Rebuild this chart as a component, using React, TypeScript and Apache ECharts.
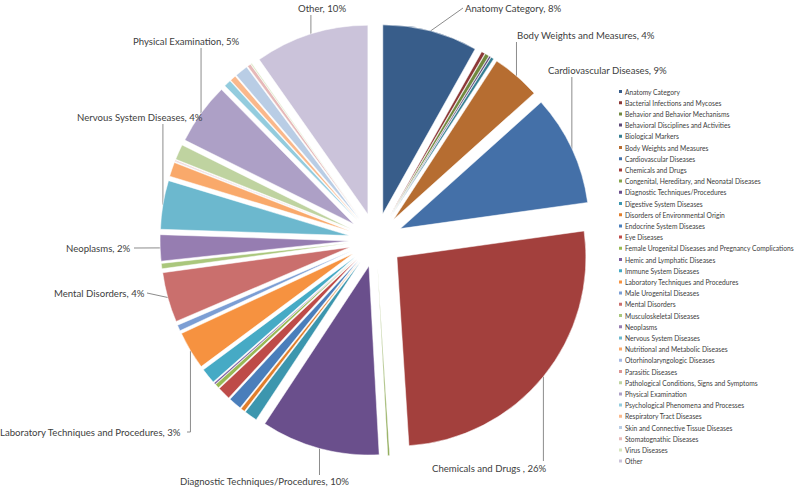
import React, { useEffect, useRef } from 'react';
import * as echarts from 'echarts';

const categories = [
  'Anatomy Category',
  'Bacterial Infections and Mycoses',
  'Behavior and Behavior Mechanisms',
  'Behavioral Disciplines and Activities',
  'Biological Markers',
  'Body Weights and Measures',
  'Cardiovascular Diseases',
  'Chemicals and Drugs',
  'Congenital, Hereditary, and Neonatal Diseases',
  'Diagnostic Techniques/Procedures',
  'Digestive System Diseases',
  'Disorders of Environmental Origin',
  'Endocrine System Diseases',
  'Eye Diseases',
  'Female Urogenital Diseases and Pregnancy Complications',
  'Hemic and Lymphatic Diseases',
  'Immune System Diseases',
  'Laboratory Techniques and Procedures',
  'Male Urogenital Diseases',
  'Mental Disorders',
  'Musculoskeletal Diseases',
  'Neoplasms',
  'Nervous System Diseases',
  'Nutritional and Metabolic Diseases',
  'Otorhinolaryngologic Diseases',
  'Parasitic Diseases',
  'Pathological Conditions, Signs and Symptoms',
  'Physical Examination',
  'Psychological Phenomena and Processes',
  'Respiratory Tract Diseases',
  'Skin and Connective Tissue Diseases',
  'Stomatognathic Diseases',
  'Virus Diseases',
  'Other',
];

const values = [
  8.0, 0.3, 0.35, 0.15, 0.25, 4.1, 9.3, 25.8, 0.15, 10.0,
  1.1, 0.35, 1.1, 1.1, 0.35, 0.15, 1.3, 3.2, 0.5, 4.2,
  0.45, 2.2, 4.1, 1.2, 0.05, 0.05, 1.3, 5.2, 0.6, 0.5,
  1.1, 0.3, 0.1, 9.6,
];

const colors = [
  '#385D8A', '#8C3836', '#71893F', '#5C4776', '#357D91', '#B66D31',
  '#4470A8', '#A3403D', '#86A44A', '#6A4F8C', '#3C96AE', '#E07E2C',
  '#4A7EBB', '#BE4B48', '#98B954', '#7D60A0', '#46AAC5', '#F69240',
  '#7C9ED4', '#CA6F6D', '#AAC77C', '#967DB1', '#6CB8CE', '#F9A96B',
  '#A7B9E3', '#DB9593', '#BFD3A0', '#ADA0C6', '#93CCDE', '#FAB88B',
  '#B9CDE5', '#E6B9B8', '#D7E4BD', '#CBC3DA',
];

const labelledCategories = [
  'Anatomy Category',
  'Body Weights and Measures',
  'Cardiovascular Diseases',
  'Chemicals and Drugs',
  'Diagnostic Techniques/Procedures',
  'Laboratory Techniques and Procedures',
  'Mental Disorders',
  'Neoplasms',
  'Nervous System Diseases',
  'Physical Examination',
  'Other',
];

type LabelSpec = {
  pos: [number, number];
  vy?: number; // vertical leader from slice to this y
  end?: [number, number]; // final point of leader
};

export default function App() {
  const ref = useRef<HTMLDivElement>(null);
  useEffect(() => {
    if (!ref.current) return;
    const chart = echarts.init(ref.current, null, { renderer: 'svg' });
    const total = values.reduce((a, b) => a + b, 0);
    const center = [376, 240];
    const radius = 189;
    const offset = 27;

    // anchor point on the exploded slice's outer arc, at its mid-angle
    const anchor = (idx: number): [number, number] => {
      let before = 0;
      for (let i = 0; i < idx; i++) before += values[i];
      const mid = ((before + values[idx] / 2) / total) * Math.PI * 2;
      const r = radius + offset;
      return [center[0] + r * Math.sin(mid), center[1] - r * Math.cos(mid)];
    };

    const labelSpec: Record<string, LabelSpec> = {
      'Anatomy Category': { pos: [465, 8], end: [463, 8] },
      'Body Weights and Measures': { pos: [517, 35], vy: 42 },
      'Cardiovascular Diseases': { pos: [548, 70], vy: 77 },
      'Chemicals and Drugs': { pos: [432, 468], vy: 461 },
      'Diagnostic Techniques/Procedures': { pos: [180, 481], vy: 475 },
      'Laboratory Techniques and Procedures': { pos: [0, 432], vy: 432, end: [187, 432] },
      'Mental Disorders': { pos: [54, 293], end: [147, 293] },
      'Neoplasms': { pos: [66, 248], end: [134, 248] },
      'Nervous System Diseases': { pos: [77, 117], vy: 124 },
      'Physical Examination': { pos: [133, 41], vy: 48 },
      'Other': { pos: [298, 8], vy: 15 },
    };

    const font = 'Lato, "Open Sans", sans-serif';
    chart.setOption({
      animation: false,
      color: colors,
      legend: {
        orient: 'vertical',
        left: 617,
        top: 87.5,
        padding: 0,
        itemWidth: 5,
        itemHeight: 5,
        itemGap: 3.2,
        icon: 'rect',
        selectedMode: false,
        data: categories,
        textStyle: {
          fontSize: 6.7,
          lineHeight: 8,
          color: '#404040',
          fontFamily: font,
          padding: [0, 0, 0, -3],
        },
      },
      series: [
        {
          type: 'pie',
          name: 'slices',
          center,
          radius,
          startAngle: 90,
          clockwise: true,
          selectedMode: 'multiple',
          selectedOffset: offset,
          emphasis: { disabled: true },
          itemStyle: { borderColor: '#ffffff', borderWidth: 0.5 },
          label: { show: false },
          labelLine: { show: false },
          data: categories.map((name, i) => ({ name, value: values[i], selected: true })),
        },
        {
          type: 'pie',
          name: 'labels',
          center,
          radius: radius + offset,
          startAngle: 90,
          clockwise: true,
          silent: true,
          selectedMode: false,
          avoidLabelOverlap: false,
          emphasis: { disabled: true },
          itemStyle: { color: 'rgba(0,0,0,0)', borderWidth: 0 },
          label: {
            show: true,
            position: 'outside',
            fontSize: 9.6,
            color: '#404040',
            fontFamily: font,
            formatter: (p: any) =>
              p.name + (p.name === 'Chemicals and Drugs' ? ' ' : '') + ', ' +
              Math.round((p.value / total) * 100) + '%',
          },
          labelLine: {
            show: true,
            lineStyle: { color: '#8c8c8c', width: 1 },
          },
          labelLayout: (params: any) => {
            const idx = params.dataIndex;
            const spec = labelSpec[categories[idx]];
            if (!spec) return {};
            const a = anchor(idx);
            let pts: number[][];
            if (spec.vy !== undefined) {
              const mid = [a[0], spec.vy];
              pts = [a, mid, spec.end ? spec.end : mid];
            } else {
              const e = spec.end as [number, number];
              pts = [a, e, e];
            }
            return {
              x: spec.pos[0],
              y: spec.pos[1],
              align: 'left',
              verticalAlign: 'middle',
              labelLinePoints: pts,
            };
          },
          data: categories.map((name, i) => {
            const show = labelledCategories.indexOf(name) >= 0;
            return {
              name,
              value: values[i],
              label: { show },
              labelLine: { show },
            };
          }),
        },
      ],
    });
    return () => chart.dispose();
  }, []);
  return (
    <div
      ref={ref}
      style={{ position: 'fixed', left: 0, top: 0, width: 799, height: 489, background: '#fff' }}
    />
  );
}
